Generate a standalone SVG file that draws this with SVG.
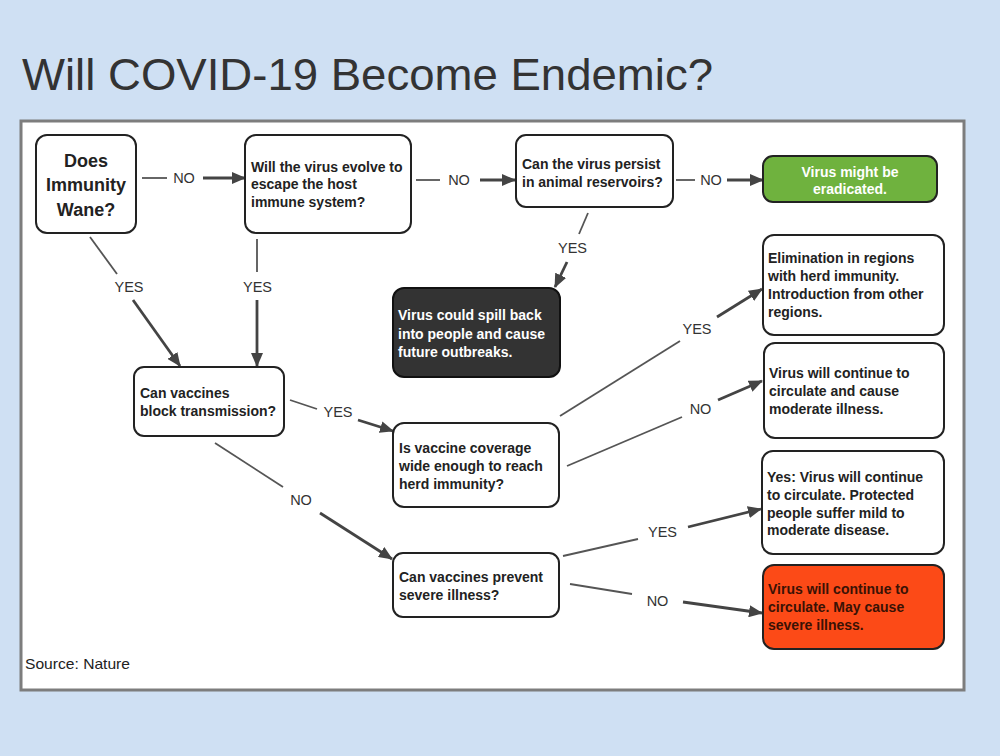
<svg xmlns="http://www.w3.org/2000/svg" width="1000" height="756" viewBox="0 0 1000 756">
<defs>
<marker id="ah" viewBox="0 0 14 12" markerWidth="14" markerHeight="12" refX="13" refY="6" orient="auto" markerUnits="userSpaceOnUse">
<path d="M0,0 L14,6 L0,12 z" fill="#444"/>
</marker>
<style>
.box{fill:#fff;stroke:#222;stroke-width:2}
.t{font-family:"Liberation Sans",Arial,sans-serif;font-size:14px;font-weight:bold;fill:#222}
.big{font-size:18px;text-anchor:middle}
.w{fill:#fff}
.lbl{font-family:"Liberation Sans",Arial,sans-serif;font-size:14.5px;fill:#333;text-anchor:middle}
.c1{stroke:#555;stroke-width:1.8;fill:none}
.c2{stroke:#444;stroke-width:2.8;fill:none;marker-end:url(#ah)}
</style>
</defs>
<rect x="0" y="0" width="1000" height="756" fill="#cfe0f3"/>
<text x="22" y="90" font-family="'Liberation Sans',Arial,sans-serif" font-size="44" fill="#333" textLength="691" lengthAdjust="spacingAndGlyphs">Will COVID-19 Become Endemic?</text>
<rect x="21" y="121" width="943" height="569" fill="#fff" stroke="#7d7d7d" stroke-width="3"/>
<text x="25" y="669" font-family="'Liberation Sans',Arial,sans-serif" font-size="15" fill="#222" textLength="105" lengthAdjust="spacingAndGlyphs">Source: Nature</text>

<g id="connectors">
<line class="c1" x1="142" y1="178" x2="167" y2="178"/><text class="lbl" x="184" y="183">NO</text><line class="c2" x1="203" y1="178" x2="245" y2="178"/>
<line class="c1" x1="416" y1="180" x2="440" y2="180"/><text class="lbl" x="459" y="185">NO</text><line class="c2" x1="480" y1="180" x2="515" y2="180"/>
<line class="c1" x1="676" y1="180" x2="695" y2="180"/><text class="lbl" x="711" y="185">NO</text><line class="c2" x1="727" y1="180" x2="763" y2="180"/>
<line class="c1" x1="588" y1="213" x2="579" y2="234"/><text class="lbl" x="572.5" y="253">YES</text><line class="c2" x1="567" y1="262" x2="555" y2="287"/>
<line class="c1" x1="90" y1="237" x2="117" y2="274"/><text class="lbl" x="129" y="292">YES</text><line class="c2" x1="133" y1="300" x2="180" y2="366"/>
<line class="c1" x1="257" y1="239" x2="257" y2="272"/><text class="lbl" x="257.5" y="292">YES</text><line class="c2" x1="257" y1="300" x2="257" y2="366"/>
<line class="c1" x1="290" y1="400" x2="317" y2="409"/><text class="lbl" x="338" y="417">YES</text><line class="c2" x1="358" y1="420" x2="393" y2="431"/>
<line class="c1" x1="215" y1="443" x2="283" y2="487"/><text class="lbl" x="301" y="505">NO</text><line class="c2" x1="320" y1="513" x2="392" y2="559"/>
<line class="c1" x1="560" y1="416" x2="680" y2="341"/><text class="lbl" x="697" y="334">YES</text><line class="c2" x1="717" y1="317" x2="762" y2="289"/>
<line class="c1" x1="567" y1="466" x2="682" y2="417"/><text class="lbl" x="700.5" y="414">NO</text><line class="c2" x1="718" y1="400" x2="762" y2="381"/>
<line class="c1" x1="563" y1="556" x2="638" y2="539"/><text class="lbl" x="662.5" y="537">YES</text><line class="c2" x1="688" y1="527" x2="761" y2="509"/>
<line class="c1" x1="570" y1="584" x2="632" y2="594"/><text class="lbl" x="657.5" y="606">NO</text><line class="c2" x1="683" y1="602" x2="762" y2="613"/>
</g>

<g id="n-wane">
<rect class="box" x="36" y="135" width="100" height="98" rx="11"/>
<text class="t big" x="86" y="166.5">Does</text>
<text class="t big" x="86" y="191">Immunity</text>
<text class="t big" x="86" y="215.5">Wane?</text>
</g>
<g id="n-evolve">
<rect class="box" x="245" y="135" width="166" height="98" rx="11"/>
<text class="t" x="251" y="171.5">Will the virus evolve to</text>
<text class="t" x="251" y="189">escape the host</text>
<text class="t" x="251" y="206.5">immune system?</text>
</g>
<g id="n-animal">
<rect class="box" x="516" y="135" width="157" height="72" rx="10"/>
<text class="t" x="522" y="168.5">Can the virus persist</text>
<text class="t" x="522" y="186.5">in animal reservoirs?</text>
</g>
<g id="n-eradicated">
<rect x="763" y="156" width="174" height="46" rx="10" fill="#6fb23e" stroke="#222" stroke-width="2"/>
<text class="t w" x="850" y="177" text-anchor="middle">Virus might be</text>
<text class="t w" x="850" y="193.5" text-anchor="middle">eradicated.</text>
</g>
<g id="n-spill">
<rect x="393" y="288" width="167" height="89" rx="11" fill="#333" stroke="#111" stroke-width="2"/>
<text class="t w" x="398" y="320">Virus could spill back</text>
<text class="t w" x="398" y="338.5">into people and cause</text>
<text class="t w" x="398" y="357">future outbreaks.</text>
</g>
<g id="n-elimination">
<rect class="box" x="763" y="235" width="181" height="100" rx="11"/>
<text class="t" x="768" y="263">Elimination in regions</text>
<text class="t" x="768" y="281">with herd immunity.</text>
<text class="t" x="768" y="299">Introduction from other</text>
<text class="t" x="768" y="317">regions.</text>
</g>
<g id="n-moderate">
<rect class="box" x="764" y="343" width="180" height="95" rx="11"/>
<text class="t" x="769" y="378">Virus will continue to</text>
<text class="t" x="769" y="396">circulate and cause</text>
<text class="t" x="769" y="413.5">moderate illness.</text>
</g>
<g id="n-block">
<rect class="box" x="134" y="367" width="150" height="69" rx="10"/>
<text class="t" x="140" y="398">Can vaccines</text>
<text class="t" x="140" y="416">block transmission?</text>
</g>
<g id="n-coverage">
<rect class="box" x="393" y="423" width="166" height="84" rx="11"/>
<text class="t" x="399" y="453">Is vaccine coverage</text>
<text class="t" x="399" y="471">wide enough to reach</text>
<text class="t" x="399" y="489">herd immunity?</text>
</g>
<g id="n-mild">
<rect class="box" x="762" y="451" width="182" height="103" rx="11"/>
<text class="t" x="767" y="482">Yes: Virus will continue</text>
<text class="t" x="767" y="499.5">to circulate. Protected</text>
<text class="t" x="767" y="517.5">people suffer mild to</text>
<text class="t" x="767" y="535">moderate disease.</text>
</g>
<g id="n-prevent">
<rect class="box" x="393" y="553" width="166" height="64" rx="10"/>
<text class="t" x="399" y="582">Can vaccines prevent</text>
<text class="t" x="399" y="599.5">severe illness?</text>
</g>
<g id="n-severe">
<rect x="763" y="565" width="181" height="84" rx="11" fill="#fc4a17" stroke="#222" stroke-width="2"/>
<text class="t" x="768" y="594" fill="#3a1205" style="fill:#3a1205">Virus will continue to</text>
<text class="t" x="768" y="612" style="fill:#3a1205">circulate. May cause</text>
<text class="t" x="768" y="630" style="fill:#3a1205">severe illness.</text>
</g>
</svg>
